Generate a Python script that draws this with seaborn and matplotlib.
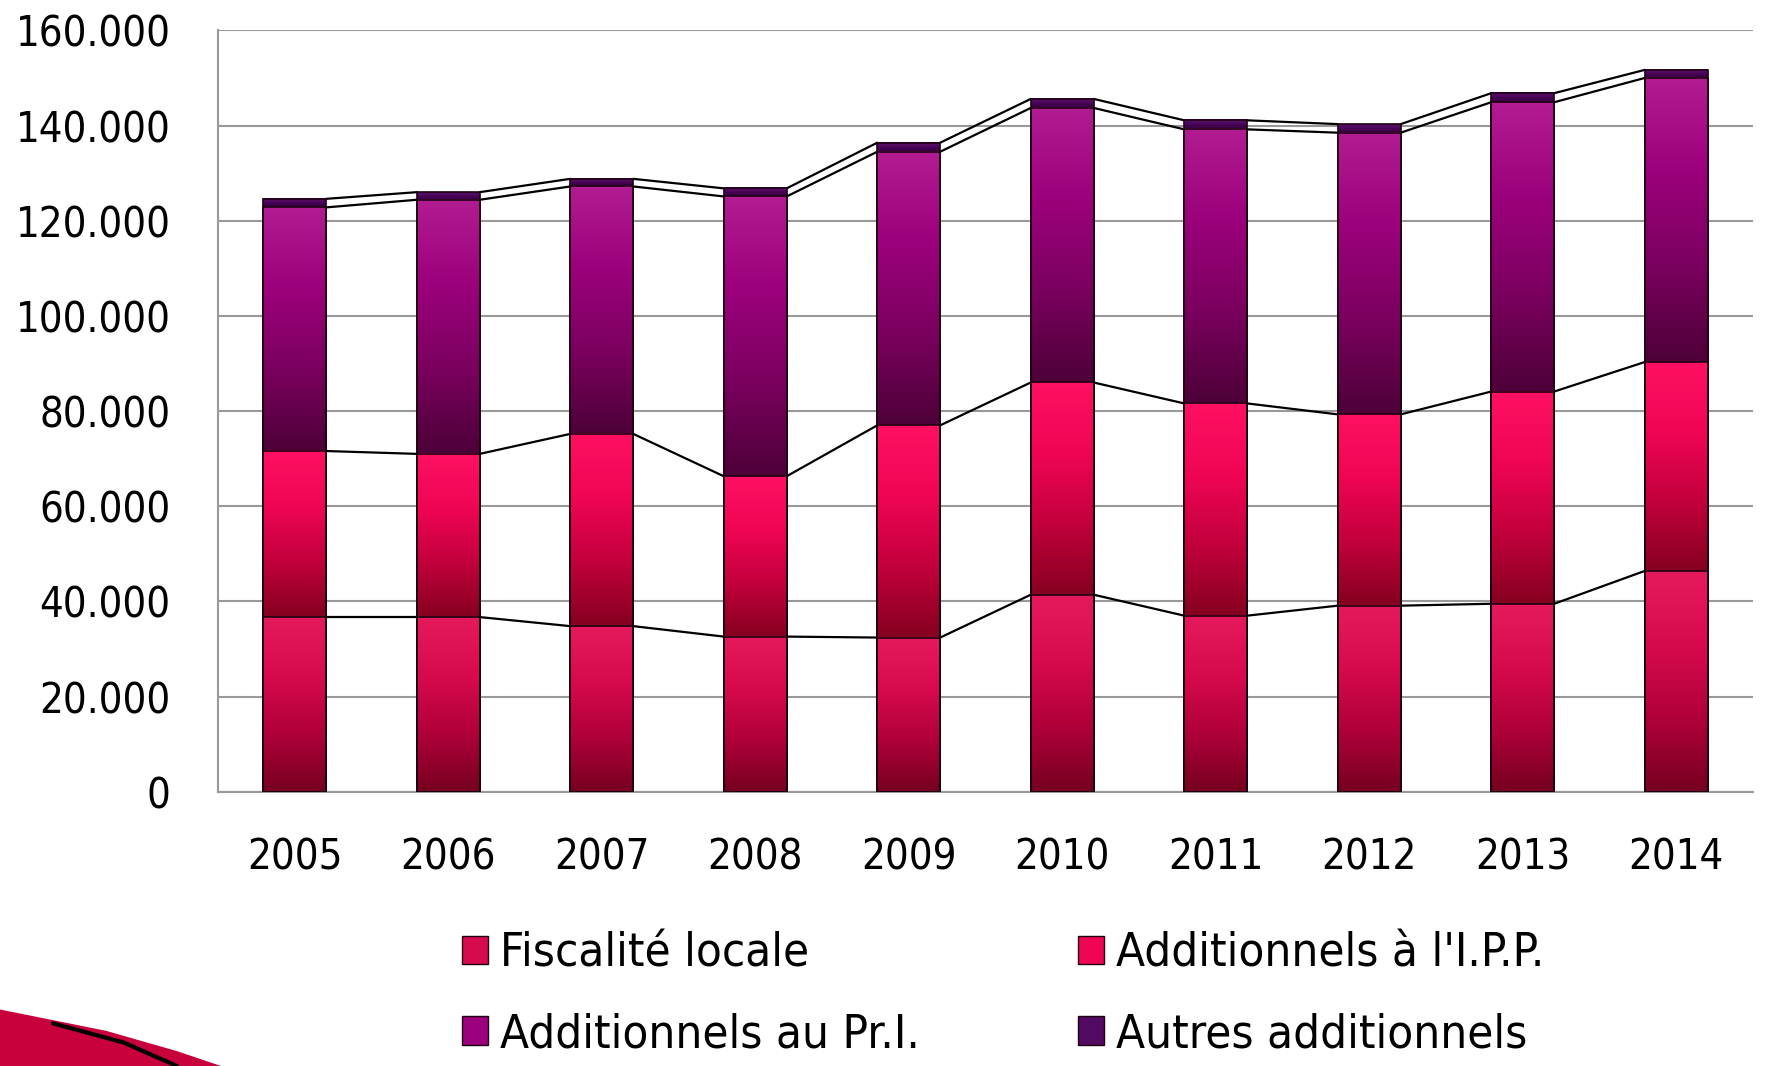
import numpy as np
import pandas as pd
import seaborn as sns
import matplotlib
matplotlib.use("Agg")
import matplotlib.pyplot as plt
from matplotlib import font_manager
from matplotlib.colors import LinearSegmentedColormap
from matplotlib.patches import Patch, Polygon
from matplotlib.ticker import FuncFormatter

years = ['2005', '2006', '2007', '2008', '2009', '2010', '2011', '2012', '2013', '2014']
fiscalite = [36700, 36700, 34800, 32600, 32400, 41400, 37000, 39100, 39500, 46400]
add_ipp = [34900, 34300, 40400, 33700, 44600, 44600, 44600, 40200, 44600, 43900]
add_pri = [51200, 53400, 52000, 58800, 57500, 57700, 57600, 59200, 60800, 59700]
autres = [1800, 1600, 1600, 1700, 1900, 1900, 1900, 1800, 1900, 1700]

labels = ['Fiscalité locale', "Additionnels à l'I.P.P.", 'Additionnels au Pr.I.', 'Autres additionnels']

df = pd.DataFrame({'annee': years, 'f': fiscalite, 'ipp': add_ipp, 'pri': add_pri, 'aut': autres})
df['c1'] = df['f']
df['c2'] = df['c1'] + df['ipp']
df['c3'] = df['c2'] + df['pri']
df['c4'] = df['c3'] + df['aut']

# gradient stops bottom -> top
grads = {
    'c1': ['#75001f', '#b0003a', '#d80a4e', '#e51a5c'],
    'c2': ['#85001f', '#c2003c', '#f00555', '#ff1062'],
    'c3': ['#4d0038', '#7a005e', '#9c007c', '#b21c92'],
    'c4': ['#32003f', '#42004f', '#520a62', '#5a1068'],
}

sns.set_theme(style='white')

# narrow font if there is one, otherwise a plain sans at a smaller size
fonts = font_manager.fontManager.ttflist
names = {f.name for f in fonts}
fs = 33
if 'Liberation Sans Narrow' in names:
    plt.rcParams['font.family'] = ['Liberation Sans Narrow', 'DejaVu Sans']
elif any(f.name == 'DejaVu Sans' and 'Condensed' in f.fname for f in fonts):
    plt.rcParams['font.family'] = ['DejaVu Sans']
    plt.rcParams['font.stretch'] = 'condensed'
    fs = 30
else:
    plt.rcParams['font.family'] = ['Roboto', 'DejaVu Sans']
    fs = 30
plt.rcParams['text.color'] = 'black'

fig = plt.figure(figsize=(17.68, 10.66), dpi=100)
ax = fig.add_axes([0.1233, 0.2573, 0.8682, 0.7142])

w = 0.41
lower = {'c4': 'c3', 'c3': 'c2', 'c2': 'c1', 'c1': None}
for col in ['c4', 'c3', 'c2', 'c1']:
    n0 = len(ax.patches)
    sns.barplot(data=df, x='annee', y=col, ax=ax, width=w, color=grads[col][2],
                errorbar=None, edgecolor='#1e0010', linewidth=1.2, zorder=3)
    cmap = LinearSegmentedColormap.from_list(col, grads[col])
    grad = np.linspace(0, 1, 256)[::-1].reshape(-1, 1)
    for i, p in enumerate(ax.patches[n0:]):
        x0 = p.get_x()
        top = df[col].iloc[i]
        bot = 0 if lower[col] is None else df[lower[col]].iloc[i]
        ax.imshow(grad, cmap=cmap, extent=[x0, x0 + w, bot, top], aspect='auto',
                  interpolation='bicubic', zorder=2)
        p.set_facecolor('none')

# connector lines between stacked tops
for col in ['c1', 'c2', 'c3', 'c4']:
    vals = df[col].values
    for i in range(len(vals) - 1):
        ax.plot([i + w / 2, i + 1 - w / 2], [vals[i], vals[i + 1]], color='black', lw=1.6, zorder=1)

ax.set_xlim(-0.5, 9.5)
ax.set_ylim(0, 160000)
ax.set_yticks(np.arange(0, 160001, 20000))
ax.yaxis.set_major_formatter(FuncFormatter(lambda v, _: f"{int(v):,}".replace(',', '.')))
ax.grid(axis='y', color='#999999', lw=1.5, zorder=0)
ax.set_axisbelow(True)
ax.set_xlabel('')
ax.set_ylabel('')
for s in ['top', 'right']:
    ax.spines[s].set_visible(False)
for s in ['left', 'bottom']:
    ax.spines[s].set_color('#999999')
    ax.spines[s].set_linewidth(1.5)
ax.tick_params(axis='y', length=0, pad=34, labelsize=fs, colors='black')
ax.tick_params(axis='x', length=0, pad=32, labelsize=fs, colors='black')

handles = [Patch(facecolor=grads[c][2], edgecolor='#1e0010', lw=1) for c in ['c1', 'c2', 'c3', 'c4']]
order = [0, 2, 1, 3]
fig.legend([handles[i] for i in order], [labels[i] for i in order], ncol=2, frameon=False,
           loc='center left', bbox_to_anchor=(0.2613, 0.067), fontsize=fs + 4,
           borderpad=0, borderaxespad=0,
           handlelength=0.55, handleheight=0.55, handletextpad=0.25,
           columnspacing=3.35, labelspacing=0.75)

# slide decoration bottom-left
fig.patches.append(Polygon([[0, 0.053], [0.06, 0.033], [0.1, 0.014], [0.125, 0.0], [0, 0]],
                           closed=True, transform=fig.transFigure, facecolor='#c8003c',
                           edgecolor='none'))
fig.lines.append(plt.Line2D([0.03, 0.07, 0.1], [0.040, 0.022, 0.0], transform=fig.transFigure,
                            color='black', lw=3))

fig.savefig('out.png', dpi=100)
